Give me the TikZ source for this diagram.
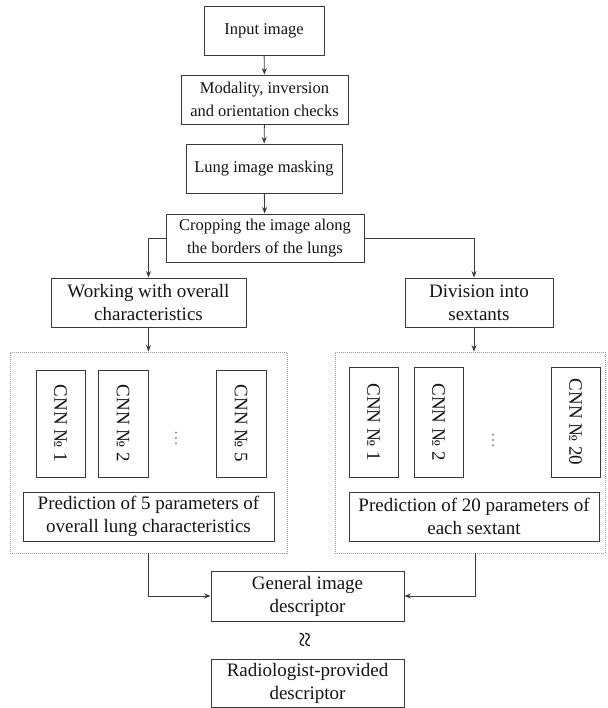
\documentclass[tikz,border=0pt]{standalone}
\usepackage{fontspec}
\setmainfont{Liberation Serif}
\usetikzlibrary{arrows.meta}
\definecolor{lc}{HTML}{3A3A3A}
\definecolor{tc}{HTML}{141414}
\tikzset{
  box/.style={draw=lc, line width=0.9pt, align=center, text=tc, inner sep=0pt,
              font=\fontsize{19}{23}\selectfont},
  sbox/.style={box, font=\fontsize{16.5}{23}\selectfont},
  cnn/.style={draw=lc, line width=0.9pt, text=tc, inner sep=0pt, rotate=-90,
              font=\fontsize{19}{23}\selectfont},
  group/.style={draw=gray!80, line width=0.8pt, dash pattern=on 1pt off 1pt, inner sep=0pt},
  arr/.style={draw=lc, line width=0.9pt, -{Stealth[length=6.5pt,width=5pt]}},
  ln/.style={draw=lc, line width=0.9pt}
}
\begin{document}
\begin{tikzpicture}[x=1pt,y=-1pt]
\useasboundingbox (0,0) rectangle (607,708);
% top chain
\node[sbox, minimum width=120pt, minimum height=49pt] (input) at (264,30.5) {Input image};
\node[sbox, minimum width=167pt, minimum height=49pt] (mod) at (264.5,99.5) {Modality, inversion\\and orientation checks};
\node[sbox, minimum width=156pt, minimum height=49pt] (mask) at (264,168.5) {Lung image masking};
\node[sbox, minimum width=198pt, minimum height=48pt] (crop) at (265,238) {Cropping the image along\\the borders of the lungs};
% branches
\node[box, minimum width=195pt, minimum height=49pt] (work) at (148.5,302.5) {Working with overall\\characteristics};
\node[box, minimum width=148pt, minimum height=49pt] (div) at (479,302.5) {Division into\\sextants};
% groups
\node[group, minimum width=277pt, minimum height=201pt] (dotL) at (148.5,452.5) {};
\node[group, minimum width=270pt, minimum height=201pt] (dotR) at (470,452.5) {};
% CNN left
\node[cnn, minimum width=107pt, minimum height=49pt] (l1) at (60.5,423.5) {CNN № 1};
\node[cnn, minimum width=107pt, minimum height=50pt] (l2) at (123,423.5) {CNN № 2};
\node[rotate=-90, text=gray, font=\fontsize{16}{20}\selectfont] (ldots) at (176,438) {…};
\node[cnn, minimum width=107pt, minimum height=50pt] (l5) at (241,423.5) {CNN № 5};
% CNN right
\node[cnn, minimum width=110pt, minimum height=49pt] (r1) at (373.5,422) {CNN № 1};
\node[cnn, minimum width=110pt, minimum height=49pt] (r2) at (438.5,422) {CNN № 2};
\node[rotate=-90, text=gray, font=\fontsize{16}{20}\selectfont] (rdots) at (493,440) {…};
\node[cnn, minimum width=110pt, minimum height=49pt] (r20) at (575.5,422) {CNN № 20};
% predictions
\node[box, minimum width=251pt, minimum height=49pt] (predL) at (148.5,516.5) {Prediction of 5 parameters of\\overall lung characteristics};
\node[box, minimum width=250pt, minimum height=49pt] (predR) at (474,516.5) {Prediction of 20 parameters of\\each sextant};
% bottom
\node[box, minimum width=193pt, minimum height=50pt] (gen) at (307.5,596) {General image\\descriptor};
\node[rotate=90, text=tc, inner sep=0pt, font=\fontsize{28}{30}\selectfont] (approx) at (307,640) {≈};
\node[box, minimum width=193pt, minimum height=48pt] (rad) at (307.5,683) {Radiologist-provided\\descriptor};
% connectors
\draw[arr] (input) -- (mod);
\draw[arr] (mod) -- (mask);
\draw[arr] (mask) -- (crop);
\draw[arr] (crop.west) -| (work.north);
\draw[arr] (crop.east) -| ([xshift=-5pt]div.north);
\draw[arr] (work.south) -- (dotL.north);
\draw[arr] ([xshift=-5pt]div.south) -- ([xshift=-5pt]div.south |- dotR.north);
\draw[arr] (dotL.south) |- (gen.west);
\draw[arr] ([xshift=5pt]dotR.south) |- (gen.east);
\end{tikzpicture}
\end{document}
